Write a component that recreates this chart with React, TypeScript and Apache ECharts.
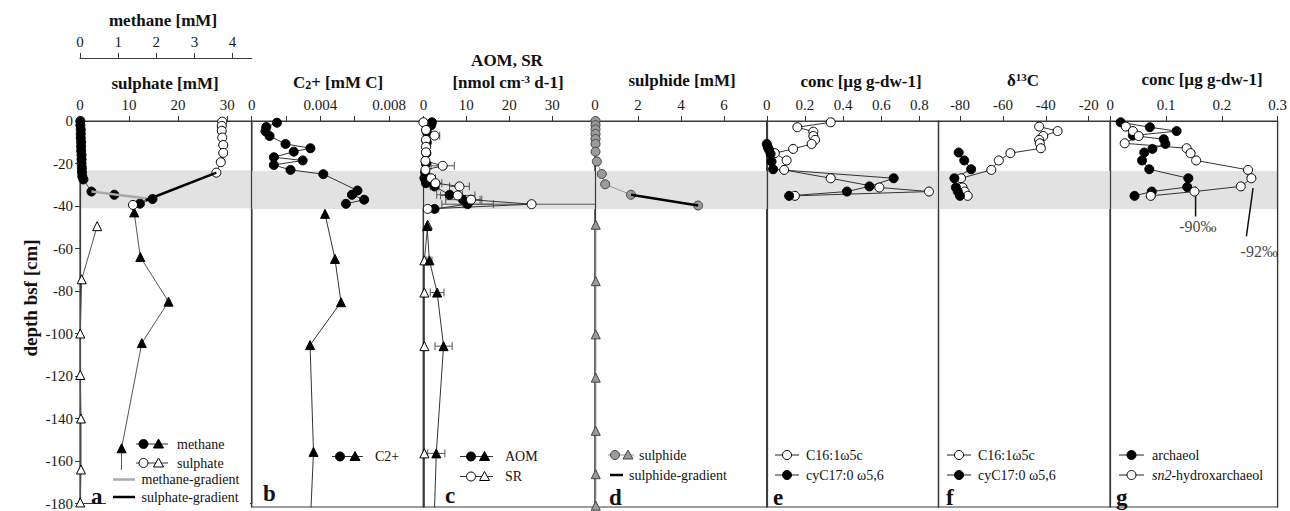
import React, { useEffect, useRef } from "react";
import * as echarts from "echarts";

// ---------- Panel a : methane / sulphate ----------
const methaneCircleDepth = [0, -2, -4, -6, -8, -10, -12, -14, -16, -18, -20, -22, -24, -26, -27.5, -33.2, -34.7, -36.7, -38.9];
const methaneCircleConc = [0.01, 0.01, 0.02, 0.02, 0.02, 0.03, 0.03, 0.03, 0.04, 0.04, 0.04, 0.05, 0.05, 0.06, 0.09, 0.3, 0.9, 1.9, 1.57];
const methaneTriDepth = [-43, -64, -85, -104.5, -154, -185];
const methaneTriConc = [1.42, 1.58, 2.32, 1.62, 1.09, 1.08];
const sulphateCircleDepth = [-0.3, -2.3, -4.6, -7.8, -11.3, -15, -19.4, -24.3, -39.5];
const sulphateCircleConc = [29.0, 28.9, 28.9, 29.0, 29.2, 29.2, 28.7, 27.8, 10.8];
const sulphateTriDepth = [-49.5, -74.5, -100, -119.5, -140, -164, -179.5];
const sulphateTriConc = [3.5, 0.35, 0.05, 0.05, 0.2, 0.2, 0.05];
const methaneGradDepth = [-33.2, -36.5];
const methaneGradConc = [0.3, 1.75];
const sulphateGradDepth = [-24.3, -37.3];
const sulphateGradConc = [27.8, 13.4];

// ---------- Panel b : C2+ ----------
const c2CircleDepth = [-0.8, -2.8, -4.8, -7, -10.7, -12.7, -14.3, -16.9, -18.4, -20.5, -22.8, -24.8, -32.4, -34.4, -36.7, -38.6];
const c2CircleConc = [0.00147, 0.00085, 0.0008, 0.00104, 0.00197, 0.00342, 0.00245, 0.00129, 0.00297, 0.00129, 0.00226, 0.00417, 0.00616, 0.00584, 0.00655, 0.00549];
const c2TriDepth = [-43.3, -64.3, -84.5, -104.5, -154.3, -190];
const c2TriConc = [0.00427, 0.00485, 0.0052, 0.0034, 0.0036, 0.0034];

// ---------- Panel c : AOM, SR ----------
const aomCircleDepth = [-0.6, -2, -5, -10, -15, -20, -24, -26.7, -29, -30.5, -34.4, -36.7, -38.8, -41];
const aomCircleRate = [2.0, 1.8, 0.8, 0.8, 0.7, 0.6, 0.4, 0.23, 0.6, 2.6, 6.1, 9.2, 10.3, 2.6];
const aomCircleErr = [0.5, 0, 0, 0, 0, 0, 0, 0, 0.5, 1, 3, 4, 6, 0.5];
const srCircleDepth = [-0.6, -4.2, -6.8, -8.8, -12, -14.6, -18.6, -20.9, -22.8, -26.7, -29, -30.5, -34.7, -36.7, -38.8, -41];
const srCircleRate = [0.0, 0.6, 2.6, 0.6, 0.6, 0.6, 0.47, 4.5, 0.47, 1.8, 2.8, 8.4, 8.0, 11.1, 25.2, 1.0];
const srCircleErr = [0, 0, 1.2, 0, 0, 0, 0, 2.7, 0, 1, 1.5, 2.3, 4, 2.5, 16, 0];
const aomTriDepth = [-49, -65, -80, -105, -155, -200];
const aomTriRate = [0.85, 1.4, 3.2, 4.7, 3.0, 2.3];
const aomTriErr = [0, 0.6, 1.6, 2, 2, 0];
const srTriDepth = [-48.4, -65, -80, -105, -155, -200];
const srTriRate = [1.0, 0.23, 0.23, 0.23, 0.23, 0.23];

// ---------- Panel d : sulphide ----------
const sulphideCircleDepth = [0, -1.9, -3.9, -6, -8.4, -10.7, -14.3, -18.9, -24.7, -29.5, -34.4, -39.4];
const sulphideCircleConc = [0.02, 0.02, 0.02, 0.02, 0.02, 0.02, 0.02, 0.08, 0.31, 0.47, 1.67, 4.8];
const sulphideTriDepth = [-48.4, -74.7, -99.5, -119.7, -144.5, -164.7, -179.4];
const sulphideTriConc = [0.03, 0.03, 0.03, 0.03, 0.03, 0.03, 0.03];
const sulphideGradDepth = [-34.4, -39.4];
const sulphideGradConc = [1.67, 4.8];

// ---------- Panel e : fatty acid conc ----------
const eOpenDepth = [-0.6, -2.9, -5, -7, -8.8, -10.7, -13, -15, -18.4, -22.8, -26.7, -31, -32.9, -34.9];
const eOpenConc = [0.335, 0.16, 0.244, 0.244, 0.253, 0.235, 0.138, 0.042, 0.104, 0.091, 0.335, 0.59, 0.85, 0.147];
const eFilledDepth = [-10.7, -12.2, -13.5, -15.3, -18.9, -22.5, -26.7, -30.5, -32.9, -34.9];
const eFilledConc = [0.0, 0.005, 0.012, 0.02, 0.025, 0.033, 0.665, 0.538, 0.42, 0.117];

// ---------- Panel f : d13C ----------
const fOpenDepth = [-2.6, -4.7, -7, -8.8, -10.4, -12.7, -15, -18.4, -22.8, -26.7, -31, -32.9, -34.9];
const fOpenD13C = [-43.1, -34.5, -41.2, -43.1, -42.8, -42.3, -56.5, -61.9, -65.4, -79.5, -78.8, -77.8, -76.4];
const fFilledDepth = [-14.7, -18.4, -22.5, -26.7, -31, -32.9, -34.9];
const fFilledD13C = [-80.6, -78.0, -74.8, -82.6, -81.9, -81.0, -80.0];

// ---------- Panel g : archaeol ----------
const gFilledDepth = [-0.6, -2.9, -4.7, -6.8, -8.5, -10.7, -13, -14.7, -18.4, -22.5, -26.7, -30.8, -32.9, -34.9];
const gFilledConc = [0.0187, 0.071, 0.119, 0.0407, 0.096, 0.099, 0.0756, 0.061, 0.057, 0.07, 0.14, 0.138, 0.0745, 0.0436];
const gOpenDepth = [-2.6, -4.7, -7, -10.4, -12.7, -15, -18.4, -22.8, -26.7, -30.5, -32.9, -34.9];
const gOpenConc = [0.028, 0.0407, 0.051, 0.026, 0.137, 0.144, 0.154, 0.247, 0.253, 0.234, 0.151, 0.0727];
const ann90Line = [[0.153, -30.6], [0.153, -44.5]];
const ann92Line = [[0.256, -31.3], [0.244, -53.8]];
const annLabels = [
  { value: [0.157, -49.3], name: "-90‰" },
  { value: [0.267, -61], name: "-92‰" },
];

// ---------- axes ----------
const depthMin = -180;
const depthMax = 0;
const bandDepth = [-23.3, -41];
const sulphateTicks = [0, 10, 20, 30];
const methaneTicks = [0, 1, 2, 3, 4];
const c2Ticks = [0, 0.002, 0.004, 0.006, 0.008];
const c2Labels = [0, 0.004, 0.008];
const rateTicks = [0, 10, 20, 30];
const sulphideTicks = [0, 2, 4, 6];
const eTicks = [0, 0.2, 0.4, 0.6, 0.8];
const fTicks = [-80, -60, -40, -20];
const gTicks = [0, 0.1, 0.2, 0.3];

const FONT = "Liberation Serif, serif";
const PANEL_W = 171.7;
const LEFT0 = 80;
const TOP = 121;
const HEIGHT = 386;
const FRAME = "#3a3a3a";

const zip = (xs: number[], ys: number[]) => xs.map((x, i) => [x, ys[i]]);

const FILLED = { color: "#000", borderColor: "#000", borderWidth: 1 };
const OPEN = { color: "#fff", borderColor: "#000", borderWidth: 1 };
const GRAYF = { color: "#9a9a9a", borderColor: "#444", borderWidth: 1 };

function xAx(gridIndex: number, min: number, max: number, ticks: number[], labels: number[], extra: any = {}) {
  return {
    type: "value",
    gridIndex,
    position: "top",
    min,
    max,
    axisLine: { show: true, onZero: false, lineStyle: { color: FRAME, width: 1.2 } },
    axisTick: { show: true, length: 5, customValues: ticks, lineStyle: { color: FRAME, width: 1 } },
    axisLabel: {
      show: true,
      customValues: labels,
      margin: 9,
      fontSize: 15,
      fontFamily: FONT,
      color: "#1a1a1a",
      formatter: (v: number) => String(v),
    },
    splitLine: { show: false },
    z: 1.5,
    ...extra,
  };
}

function yAx(gridIndex: number, showLabels: boolean, extra: any = {}) {
  return {
    type: "value",
    gridIndex,
    min: depthMin,
    max: depthMax,
    interval: 20,
    axisLine: { show: true, onZero: false, lineStyle: { color: FRAME, width: 1.2 } },
    axisTick: { show: showLabels, length: 5, lineStyle: { color: FRAME } },
    axisLabel: { show: showLabels, fontSize: 15, fontFamily: FONT, color: "#1a1a1a", margin: 7 },
    splitLine: { show: false },
    z: 1.5,
    ...extra,
  };
}

function ser(xAxisIndex: number, yAxisIndex: number, data: number[][], symbol: string, item: any, lineColor = "#333", lineWidth = 1, extra: any = {}) {
  return {
    type: "line",
    xAxisIndex,
    yAxisIndex,
    data,
    symbol,
    symbolSize: 9,
    showSymbol: symbol !== "none",
    itemStyle: item,
    lineStyle: { color: lineColor, width: lineWidth },
    emphasis: { disabled: true },
    silent: true,
    z: 3,
    ...extra,
  };
}

function band() {
  return {
    markArea: {
      silent: true,
      itemStyle: { color: "#e2e2e2" },
      data: [[{ yAxis: bandDepth[0] }, { yAxis: bandDepth[1] }]],
    },
  };
}

function errSeries(xAxisIndex: number, yAxisIndex: number, xs: number[], ys: number[], es: number[], maxX: number) {
  const data = xs.map((x, i) => [x, ys[i], es[i]]).filter((d) => d[2] > 0);
  return {
    type: "custom",
    xAxisIndex,
    yAxisIndex,
    data,
    encode: { x: 0, y: 1 },
    z: 2,
    silent: true,
    renderItem: (params: any, api: any) => {
      const x = api.value(0);
      const y = api.value(1);
      const e = api.value(2);
      const lo = Math.max(0, x - e);
      const hi = Math.min(maxX, x + e);
      const a = api.coord([lo, y]);
      const b = api.coord([hi, y]);
      const h = 4;
      const st = { stroke: "#555", lineWidth: 1 };
      const ch: any[] = [
        { type: "line", shape: { x1: a[0], y1: a[1], x2: b[0], y2: b[1] }, style: st },
        { type: "line", shape: { x1: a[0], y1: a[1] - h, x2: a[0], y2: a[1] + h }, style: st },
      ];
      if (x + e <= maxX) ch.push({ type: "line", shape: { x1: b[0], y1: b[1] - h, x2: b[0], y2: b[1] + h }, style: st });
      return { type: "group", children: ch };
    },
  };
}

// ---------- graphic helpers ----------
function text(x: number, y: number, t: string, o: any = {}) {
  return {
    type: "text",
    x,
    y,
    z: 102,
    silent: true,
    rotation: o.rotation || 0,
    style: {
      text: t,
      fill: "#111",
      fontSize: o.fontSize || 14,
      fontWeight: o.fontWeight || "normal",
      fontFamily: FONT,
      align: o.align || "left",
      verticalAlign: "middle",
      textAlign: o.align || "left",
      textVerticalAlign: "middle",
      rich: o.rich,
    },
  };
}
function hline(x1: number, x2: number, y: number, color = "#222", w = 1) {
  return { type: "line", z: 101, silent: true, shape: { x1, y1: y, x2, y2: y }, style: { stroke: color, lineWidth: w } };
}
function circ(cx: number, cy: number, fill: string, stroke = "#000") {
  return { type: "circle", z: 102, silent: true, shape: { cx, cy, r: 4.5 }, style: { fill, stroke, lineWidth: 1 } };
}
function tri(cx: number, cy: number, fill: string, stroke = "#000") {
  return {
    type: "polygon",
    z: 102,
    silent: true,
    shape: { points: [[cx, cy - 5], [cx - 5, cy + 4], [cx + 5, cy + 4]] },
    style: { fill, stroke, lineWidth: 1 },
  };
}
const title = (x: number, y: number, t: string, rich?: any) => text(x, y, t, { fontSize: 17, fontWeight: "bold", align: "center", rich });
const letter = (x: number, y: number, t: string) => text(x, y, t, { fontSize: 23, fontWeight: "bold" });

const supRich = { sup: { fontSize: 11, fontWeight: "bold", fontFamily: FONT, fill: "#111", verticalAlign: "top" } };
const subRich = { sub: { fontSize: 12, fontWeight: "bold", fontFamily: FONT, fill: "#111", verticalAlign: "bottom" } };

function buildOption() {
  const grids = [0, 1, 2, 3, 4, 5, 6].map((i) => ({
    left: LEFT0 + i * PANEL_W,
    top: TOP,
    width: PANEL_W,
    height: HEIGHT,
    show: true,
    borderColor: FRAME,
    borderWidth: 1.2,
    backgroundColor: "transparent",
  }));

  const xAxis = [
    xAx(0, 0, 35, sulphateTicks, sulphateTicks),
    xAx(0, 0, 4.5, methaneTicks, methaneTicks, { offset: 63 }),
    xAx(1, 0, 0.01, c2Ticks, c2Labels),
    xAx(2, 0, 40, rateTicks, rateTicks),
    xAx(3, 0, 8, sulphideTicks, sulphideTicks),
    xAx(4, 0, 0.9, eTicks, eTicks),
    xAx(5, -90, -10, fTicks, fTicks),
    xAx(6, 0, 0.3, gTicks, gTicks),
  ];

  const yAxis = [
    yAx(0, true),
    yAx(1, false),
    yAx(2, false),
    yAx(3, false),
    yAx(4, false),
    yAx(5, false),
    yAx(6, false),
    yAx(6, false, { position: "right" }),
  ];

  const series: any[] = [
    // panel a
    ser(0, 0, zip(sulphateTriConc, sulphateTriDepth), "triangle", OPEN, "#555", 1, band()),
    ser(1, 0, zip(methaneTriConc, methaneTriDepth), "triangle", FILLED, "#555", 1),
    ser(1, 0, zip(methaneCircleConc, methaneCircleDepth), "circle", FILLED, "#555", 1),
    ser(0, 0, zip(sulphateCircleConc, sulphateCircleDepth), "circle", OPEN, "#555", 1),
    ser(1, 0, zip(methaneGradConc, methaneGradDepth), "none", FILLED, "#a8a8a8", 2.5, { z: 4 }),
    ser(0, 0, zip(sulphateGradConc, sulphateGradDepth), "none", FILLED, "#000", 2.5, { z: 4 }),
    // panel b
    ser(2, 1, zip(c2CircleConc, c2CircleDepth), "circle", FILLED, "#333", 1, band()),
    ser(2, 1, zip(c2TriConc, c2TriDepth), "triangle", FILLED, "#333", 1),
    // panel c
    errSeries(3, 2, aomCircleRate, aomCircleDepth, aomCircleErr, 40),
    errSeries(3, 2, srCircleRate, srCircleDepth, srCircleErr, 40),
    errSeries(3, 2, aomTriRate, aomTriDepth, aomTriErr, 40),
    ser(3, 2, zip(srTriRate, srTriDepth), "triangle", OPEN, "#444", 1, band()),
    ser(3, 2, zip(aomTriRate, aomTriDepth), "triangle", FILLED, "#333", 1),
    ser(3, 2, zip(aomCircleRate, aomCircleDepth), "circle", FILLED, "#333", 1),
    ser(3, 2, zip(srCircleRate, srCircleDepth), "circle", OPEN, "#333", 1),
    // panel d
    ser(4, 3, zip(sulphideTriConc, sulphideTriDepth), "triangle", GRAYF, "#999", 1, band()),
    ser(4, 3, zip(sulphideCircleConc, sulphideCircleDepth), "circle", GRAYF, "#999", 1),
    ser(4, 3, zip(sulphideGradConc, sulphideGradDepth), "none", FILLED, "#000", 2.5, { z: 4 }),
    // panel e
    ser(5, 4, zip(eOpenConc, eOpenDepth), "circle", OPEN, "#333", 1, band()),
    ser(5, 4, zip(eFilledConc, eFilledDepth), "circle", FILLED, "#333", 1),
    // panel f
    ser(6, 5, zip(fOpenD13C, fOpenDepth), "circle", OPEN, "#333", 1, band()),
    ser(6, 5, zip(fFilledD13C, fFilledDepth), "circle", FILLED, "#333", 1),
    // panel g
    ser(7, 6, zip(gFilledConc, gFilledDepth), "circle", FILLED, "#333", 1, band()),
    ser(7, 6, zip(gOpenConc, gOpenDepth), "circle", OPEN, "#333", 1),
    ser(7, 6, ann90Line, "none", FILLED, "#111", 1.5),
    ser(7, 6, ann92Line, "none", FILLED, "#111", 1.5),
    {
      type: "scatter",
      xAxisIndex: 7,
      yAxisIndex: 6,
      data: annLabels,
      symbolSize: 1,
      itemStyle: { color: "rgba(0,0,0,0)" },
      silent: true,
      z: 5,
      label: {
        show: true,
        position: "inside",
        formatter: (p: any) => p.name,
        fontSize: 16,
        fontFamily: FONT,
        color: "#111",
      },
    },
  ];

  const g: any[] = [
    // axis title
    text(30, 298, "depth bsf [cm]", { fontSize: 19, fontWeight: "bold", align: "center", rotation: Math.PI / 2 }),
    // titles
    title(163, 20, "methane [mM]"),
    title(165, 83, "sulphate [mM]"),
    title(338, 82, "C{sub|2}+ [mM C]", subRich),
    title(507, 60, "AOM, SR"),
    title(508, 82, "[nmol cm{sup|-3} d-1]", supRich),
    title(682, 80, "sulphide [mM]"),
    title(861, 81, "conc [µg g-dw-1]"),
    title(1023, 80, "δ{sup|13}C", supRich),
    title(1202, 79, "conc [µg g-dw-1]"),
    // legend a
    { type: "rect", z: 100, silent: true, shape: { x: 106, y: 470, width: 144, height: 35 }, style: { fill: "#fff" } },
    hline(136, 168, 444, "#333", 1),
    circ(143.5, 444, "#000"),
    tri(158.5, 444, "#000"),
    text(177, 444, "methane"),
    hline(136, 168, 463, "#333", 1),
    circ(143.5, 463, "#fff"),
    tri(158.5, 463, "#fff"),
    text(177, 463, "sulphate"),
    hline(113, 135, 479.5, "#a8a8a8", 2.5),
    text(141.5, 479.5, "methane-gradient"),
    hline(113, 135, 497, "#000", 2.5),
    text(141.5, 497, "sulphate-gradient"),
    letter(91, 496, "a"),
    // legend b
    hline(332, 363, 456.5, "#333", 1),
    circ(340, 456.5, "#000"),
    tri(355, 456.5, "#000"),
    text(375, 456.5, "C2+"),
    letter(263, 493, "b"),
    // legend c
    hline(460, 493, 456.5, "#333", 1),
    circ(471, 456.5, "#000"),
    tri(484.5, 456.5, "#000"),
    text(505, 456.5, "AOM"),
    hline(460, 493, 476.5, "#333", 1),
    circ(471, 476.5, "#fff"),
    tri(484.5, 476.5, "#fff"),
    text(505, 476.5, "SR"),
    letter(445, 495, "c"),
    // legend d
    hline(608, 634, 455, "#999", 1),
    circ(615, 455, "#9a9a9a", "#444"),
    tri(628, 455, "#9a9a9a", "#444"),
    text(639, 455, "sulphide"),
    hline(610, 623, 475, "#000", 2.5),
    text(629, 475, "sulphide-gradient"),
    letter(609, 497, "d"),
    // legend e
    hline(775, 799, 455, "#222", 1),
    circ(787, 455, "#fff"),
    text(806, 455, "C16:1ω5c"),
    hline(775, 799, 475, "#222", 1),
    circ(787, 475, "#000"),
    text(806, 475, "cyC17:0 ω5,6"),
    letter(773, 497, "e"),
    // legend f
    hline(947, 971, 455, "#222", 1),
    circ(959, 455, "#fff"),
    text(978, 455, "C16:1ω5c"),
    hline(947, 971, 475, "#222", 1),
    circ(959, 475, "#000"),
    text(978, 475, "cyC17:0 ω5,6"),
    letter(946, 497, "f"),
    // legend g
    hline(1119, 1144, 455, "#222", 1),
    circ(1131.5, 455, "#000"),
    text(1152, 455, "archaeol"),
    hline(1119, 1144, 475, "#222", 1),
    circ(1131.5, 475, "#fff"),
    text(1152, 475, "{it|sn2}-hydroxarchaeol", {
      rich: { it: { fontSize: 14, fontStyle: "italic", fontFamily: FONT, fill: "#111" } },
    }),
    letter(1116, 497, "g"),
  ];

  return {
    animation: false,
    backgroundColor: "#fff",
    textStyle: { fontFamily: FONT },
    grid: grids,
    xAxis,
    yAxis,
    series,
    graphic: { elements: g },
  };
}

export default function App() {
  const ref = useRef<HTMLDivElement | null>(null);
  useEffect(() => {
    if (!ref.current) return;
    const chart = echarts.init(ref.current, null, { renderer: "svg" });
    chart.setOption(buildOption() as any);
    return () => chart.dispose();
  }, []);
  return (
    <div
      ref={ref}
      style={{ position: "fixed", left: 0, top: 0, width: 1290, height: 511, background: "#fff" }}
    />
  );
}
